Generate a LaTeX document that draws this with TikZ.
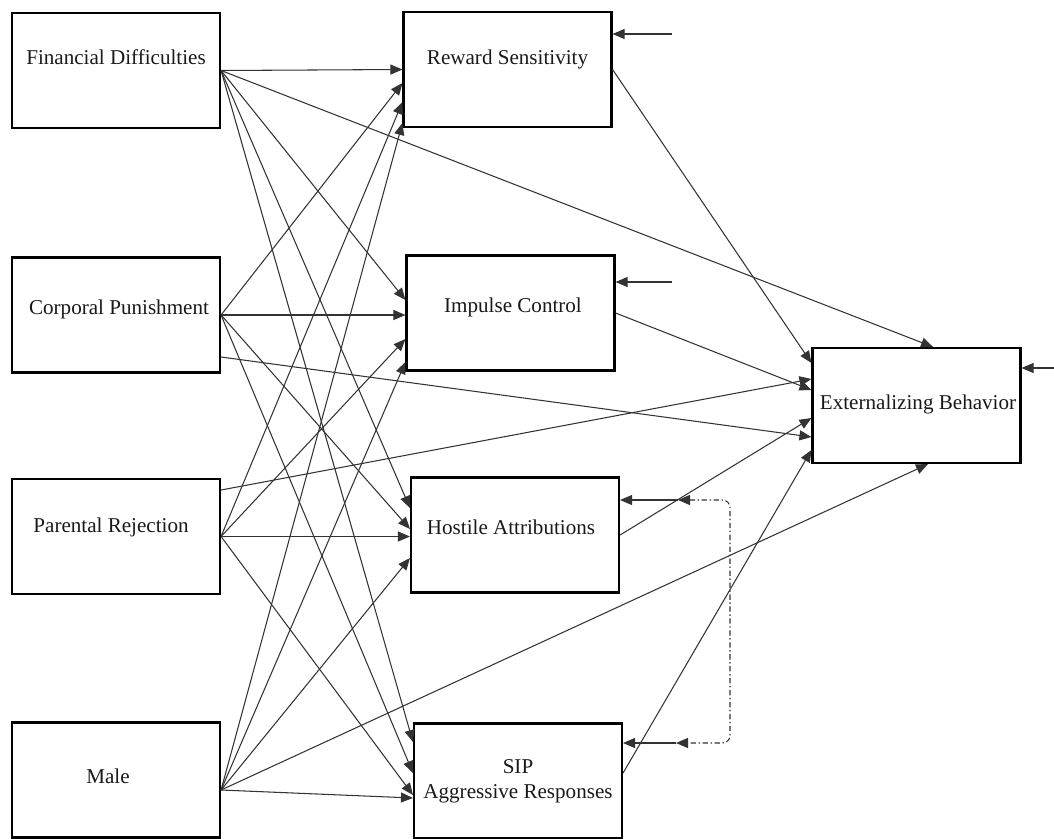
\documentclass[tikz,border=0pt]{standalone}
\usepackage{fontspec}
\setmainfont{Liberation Serif}
\usetikzlibrary{arrows.meta}

\begin{document}
\begin{tikzpicture}[
		x=0.2mm, y=-0.2mm,
		% Stile per i riquadri delle variabili (testo messo come etichetta)
		box style/.style={draw=black, line width=1.2pt, minimum width=41.6mm, minimum height=23mm, inner sep=0pt},
		text style/.style={font=\fontsize{12}{14.2}\selectfont, align=center, text=black!90},
		% Stile per le frecce (percorsi)
		edge style/.style={line width=0.6pt, draw=black!80, -{Triangle[length=2.4mm,width=2mm]}},
		% Stile per la covarianza tra i residui
		cov style/.style={line width=0.6pt, draw=black!80, dash pattern=on 3pt off 1.5pt on 0.8pt off 1.5pt, rounded corners=1.5mm,
			{Triangle[length=2.4mm,width=2mm]}-{Triangle[length=2.4mm,width=2mm]}}
	]
	\useasboundingbox (0,0) rectangle (1054,838);

	% =================================
	% PREDITTORI (a sinistra)
	% =================================
	\node[box style, label={[text style, yshift=2.7mm]center:Financial Difficulties}] (fd) at (116,70.5) {};
	\node[box style, label={[text style, xshift=0.6mm, yshift=1.2mm]center:Corporal Punishment}] (cp) at (116,315) {};
	\node[box style, label={[text style, xshift=-1mm, yshift=1.9mm]center:Parental Rejection}] (pr) at (116,536.5) {};
	\node[box style, label={[text style, xshift=-1.6mm, yshift=0.8mm]center:Male}] (male) at (116,780) {};

	% =================================
	% MEDIATORI (al centro)
	% =================================
	\node[box style, label={[text style, yshift=2.1mm]center:Reward Sensitivity}] (rs) at (507.5,69.5) {};
	\node[box style, label={[text style, xshift=0.5mm, yshift=1.2mm]center:Impulse Control}] (ic) at (510.5,313) {};
	\node[box style, label={[text style, xshift=-0.8mm, yshift=1.6mm]center:Hostile Attributions}] (ha) at (515,535) {};
	\node[box style, label={[text style]center:SIP\\Aggressive Responses}] (sip) at (518,781) {};

	% =================================
	% ESITO (a destra)
	% =================================
	\node[box style, label={[text style, xshift=0.3mm, yshift=0.3mm]center:Externalizing Behavior}] (eb) at (916.5,405.5) {};

	% punti di partenza dei residui
	\coordinate (ers) at (672,34);
	\coordinate (eic) at (672,282);
	\coordinate (eeb) at (1054,368);
	\coordinate (eha) at (678,500);
	\coordinate (esip) at (676,743);
	\coordinate (ms) at ([yshift=-2mm]male.east);

	% =================================
	% CONNESSIONI (Predittori -> Mediatori)
	% =================================

	% da Financial Difficulties
	\draw[edge style] (fd.east) -- (rs.west);
	\draw[edge style] (fd.east) -- ([yshift=2.6mm]ic.west);
	\draw[edge style] (fd.east) -- ([yshift=5.4mm]ha.west);
	\draw[edge style] (fd.east) -- ([yshift=7.8mm]sip.west);

	% da Corporal Punishment
	\draw[edge style] (cp.east) -- ([yshift=-2.7mm]rs.west);
	\draw[edge style] (cp.east) -- (cp.east -| ic.west);
	\draw[edge style] (cp.east) -- ([yshift=1.2mm]ha.west);
	\draw[edge style] (cp.east) -- ([yshift=1.6mm]sip.west);

	% da Parental Rejection
	\draw[edge style] (pr.east) -- ([yshift=-6.5mm]rs.west);
	\draw[edge style] (pr.east) -- ([yshift=-5.2mm]ic.west);
	\draw[edge style] (pr.east) -- (pr.east -| ha.west);
	\draw[edge style] (pr.east) -- ([yshift=-2.8mm]sip.west);

	% da Male
	\draw[edge style] (ms) -- ([yshift=-10.7mm]rs.west);
	\draw[edge style] (ms) -- ([yshift=-9.8mm]ic.west);
	\draw[edge style] (ms) -- ([yshift=-4.6mm]ha.west);
	\draw[edge style] (ms) -- ([yshift=-3.4mm]sip.west);

	% =================================
	% CONNESSIONI (verso Externalizing Behavior)
	% =================================
	\draw[edge style] (fd.east) -- ([xshift=3.3mm]eb.north);
	\draw[edge style] ([yshift=-8.4mm]cp.east) -- ([yshift=-6.3mm]eb.west);
	\draw[edge style] ([yshift=9.3mm]pr.east) -- ([yshift=5.3mm]eb.west);
	\draw[edge style] (ms) -- ([xshift=2.3mm]eb.south);

	\draw[edge style] (rs.east) -- ([yshift=8.5mm]eb.west);
	\draw[edge style] (ic.east) -- ([yshift=3.1mm]eb.west);
	\draw[edge style] (ha.east) -- ([yshift=-2.5mm]eb.west);
	\draw[edge style] ([yshift=1.6mm]sip.east) -- ([yshift=-8.9mm]eb.west);

	% =================================
	% RESIDUI E COVARIANZA
	% =================================
	\draw[edge style] (ers) -- (ers -| rs.east);
	\draw[edge style] (eic) -- (eic -| ic.east);
	\draw[edge style] (eeb) -- (eeb -| eb.east);
	\draw[edge style] (eha) -- (eha -| ha.east);
	\draw[edge style] (esip) -- (esip -| sip.east);
	\draw[cov style] (eha) -- ++(52,0) |- (esip);

\end{tikzpicture}
\end{document}
